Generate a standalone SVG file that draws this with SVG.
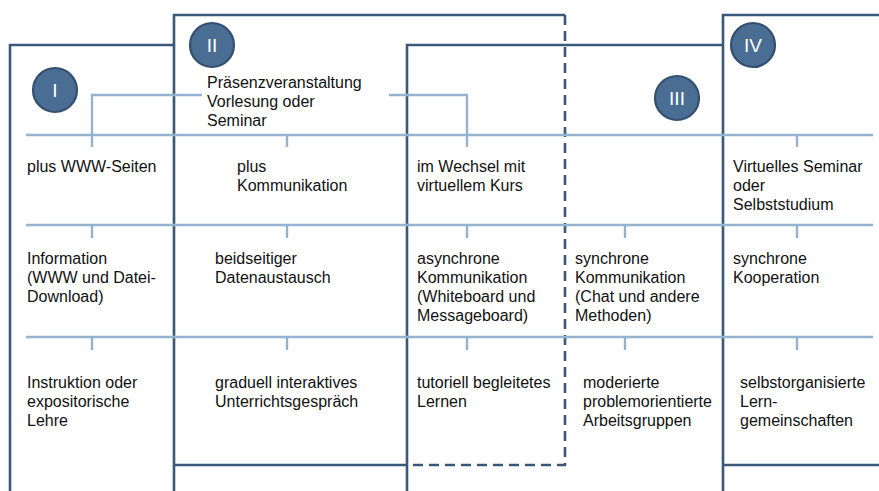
<svg xmlns="http://www.w3.org/2000/svg" width="879" height="491" viewBox="0 0 879 491">
<style>
.frame{fill:none;stroke:#3b5878;stroke-width:2.6}
.dash{fill:none;stroke:#3b5878;stroke-width:2.6;stroke-dasharray:10 6}
.conn{fill:none;stroke:#95b3d0;stroke-width:2.4}
.badge{fill:#4a6d94;stroke:#34506e;stroke-width:2.2}
.bt{font-family:"Liberation Sans",Arial,sans-serif;font-size:19px;fill:#ffffff;text-anchor:middle}
.t{font-family:"Liberation Sans",Arial,sans-serif;font-size:16px;fill:#111111}
</style>
<rect width="879" height="491" fill="#ffffff"/>
<g id="frames">
<path class="frame" d="M10,491 V45 H174"/>
<path class="frame" d="M174,491 V15 H565"/>
<path class="frame" d="M174,465 H407"/>
<path class="dash" d="M565,15 V465 H407"/>
<path class="frame" d="M407,491 V45 H723"/>
<path class="frame" d="M723,491 V15 H879"/>
<path class="frame" d="M723,465 H879"/>
</g>
<g id="connectors">
<path class="conn" d="M26,135 H873 M26,225 H873 M26,337 H873"/>
<path class="conn" d="M92,147 V95 H202"/>
<path class="conn" d="M389,95 H467 V147"/>
<path class="conn" d="M287,135 V147 M797,135 V147"/>
<path class="conn" d="M92,225 V238 M287,225 V238 M467,225 V238 M625,225 V238 M797,225 V238"/>
<path class="conn" d="M92,337 V350 M287,337 V350 M467,337 V350 M625,337 V350 M797,337 V350"/>
</g>
<g id="badge-I"><circle class="badge" cx="55" cy="90" r="22"/><text class="bt" x="55" y="97">I</text></g>
<g id="badge-II"><circle class="badge" cx="212" cy="45" r="22"/><text class="bt" x="212" y="52">II</text></g>
<g id="badge-III"><circle class="badge" cx="677" cy="98" r="22"/><text class="bt" x="677" y="105">III</text></g>
<g id="badge-IV"><circle class="badge" cx="753" cy="45" r="22"/><text class="bt" x="753" y="52">IV</text></g>
<g id="root"><text class="t" x="207" y="88">Präsenzveranstaltung</text><text class="t" x="207" y="107">Vorlesung oder</text><text class="t" x="207" y="126">Seminar</text></g>
<g id="r1c1"><text class="t" x="27" y="172">plus WWW-Seiten</text></g>
<g id="r1c2"><text class="t" x="237" y="172">plus</text><text class="t" x="237" y="191">Kommunikation</text></g>
<g id="r1c3"><text class="t" x="417" y="172">im Wechsel mit</text><text class="t" x="417" y="191">virtuellem Kurs</text></g>
<g id="r1c4"><text class="t" x="733" y="172">Virtuelles Seminar</text><text class="t" x="733" y="191">oder</text><text class="t" x="733" y="210">Selbststudium</text></g>
<g id="r2c1"><text class="t" x="27" y="264">Information</text><text class="t" x="27" y="283">(WWW und Datei-</text><text class="t" x="27" y="302">Download)</text></g>
<g id="r2c2"><text class="t" x="215" y="264">beidseitiger</text><text class="t" x="215" y="283">Datenaustausch</text></g>
<g id="r2c3"><text class="t" x="417" y="264">asynchrone</text><text class="t" x="417" y="283">Kommunikation</text><text class="t" x="417" y="302">(Whiteboard und</text><text class="t" x="417" y="321">Messageboard)</text></g>
<g id="r2c4"><text class="t" x="575" y="264">synchrone</text><text class="t" x="575" y="283">Kommunikation</text><text class="t" x="575" y="302">(Chat und andere</text><text class="t" x="575" y="321">Methoden)</text></g>
<g id="r2c5"><text class="t" x="733" y="264">synchrone</text><text class="t" x="733" y="283">Kooperation</text></g>
<g id="r3c1"><text class="t" x="27" y="388">Instruktion oder</text><text class="t" x="27" y="407">expositorische</text><text class="t" x="27" y="426">Lehre</text></g>
<g id="r3c2"><text class="t" x="215" y="388">graduell interaktives</text><text class="t" x="215" y="407">Unterrichtsgespräch</text></g>
<g id="r3c3"><text class="t" x="417" y="388">tutoriell begleitetes</text><text class="t" x="417" y="407">Lernen</text></g>
<g id="r3c4"><text class="t" x="583" y="388">moderierte</text><text class="t" x="583" y="407">problemorientierte</text><text class="t" x="583" y="426">Arbeitsgruppen</text></g>
<g id="r3c5"><text class="t" x="740" y="388">selbstorganisierte</text><text class="t" x="740" y="407">Lern-</text><text class="t" x="740" y="426">gemeinschaften</text></g>
</svg>
